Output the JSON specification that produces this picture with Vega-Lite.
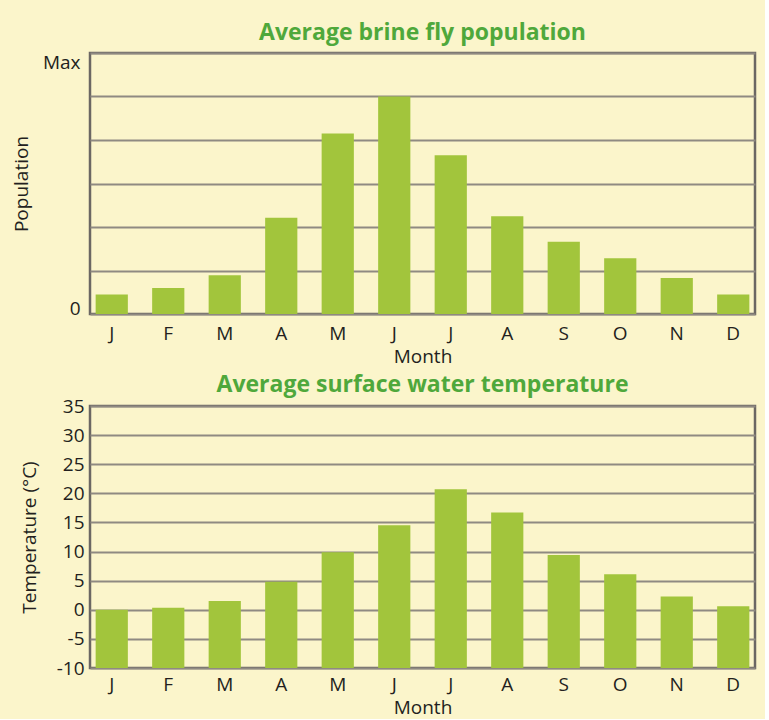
{
  "$schema": "https://vega.github.io/schema/vega-lite/v6.json",
  "description": "Average brine fly population and average surface water temperature by month.",
  "background": "#fbf5cb",
  "padding": {"top": 20, "left": 11, "right": 8, "bottom": 0},
  "spacing": 4,
  "config": {
    "font": "Open Sans",
    "view": {"stroke": "#6b6763", "strokeWidth": 2.5},
    "title": {"font": "Open Sans", "fontSize": 23, "fontWeight": "bold", "color": "#4fa83b", "anchor": "middle", "frame": "group", "offset": 8},
    "axis": {
      "domain": false,
      "ticks": false,
      "labelFont": "Open Sans",
      "labelFontSize": 19,
      "labelColor": "#231f20",
      "titleFont": "Open Sans",
      "titleFontSize": 19,
      "titleFontWeight": "normal",
      "titleColor": "#231f20",
      "gridColor": "#8f8a82",
      "gridWidth": 2,
      "gridOpacity": 1
    },
    "bar": {"color": "#a2c53c"}
  },
  "vconcat": [
    {
      "title": "Average brine fly population",
      "width": 665,
      "height": 261,
      "data": {
        "values": [
          {"month": "Jan", "population": 0.45},
          {"month": "Feb", "population": 0.6},
          {"month": "Mar", "population": 0.89},
          {"month": "Apr", "population": 2.21},
          {"month": "May", "population": 4.15},
          {"month": "Jun", "population": 5.0},
          {"month": "Jul", "population": 3.65},
          {"month": "Aug", "population": 2.25},
          {"month": "Sep", "population": 1.66},
          {"month": "Oct", "population": 1.28},
          {"month": "Nov", "population": 0.83},
          {"month": "Dec", "population": 0.45}
        ]
      },
      "mark": {"type": "bar"},
      "encoding": {
        "x": {
          "field": "month",
          "type": "ordinal",
          "sort": null,
          "title": "Month",
          "scale": {"paddingInner": 0.43, "paddingOuter": 0.1},
          "axis": {"labelAngle": 0, "labelPadding": 10, "titlePadding": 4, "labelExpr": "substring(datum.label, 0, 1)"}
        },
        "y": {
          "field": "population",
          "type": "quantitative",
          "title": "Population",
          "scale": {"domain": [0, 6], "nice": false},
          "axis": {
            "values": [0, 1, 2, 3, 4, 5, 6],
            "labelExpr": "datum.value == 6 ? 'Max' : (datum.value == 0 ? '0' : '')",
            "labelBaseline": {"condition": {"test": "datum.value == 6", "value": "top"}, "value": "alphabetic"},
            "labelPadding": 10,
            "titlePadding": 11
          }
        }
      }
    },
    {
      "title": {"text": "Average surface water temperature", "offset": 0},
      "width": 665,
      "height": 262,
      "data": {
        "values": [
          {"month": "Jan", "temperature": 0.0},
          {"month": "Feb", "temperature": 0.35},
          {"month": "Mar", "temperature": 1.5},
          {"month": "Apr", "temperature": 4.8},
          {"month": "May", "temperature": 9.9},
          {"month": "Jun", "temperature": 14.5},
          {"month": "Jul", "temperature": 20.7},
          {"month": "Aug", "temperature": 16.7},
          {"month": "Sep", "temperature": 9.4},
          {"month": "Oct", "temperature": 6.1},
          {"month": "Nov", "temperature": 2.3},
          {"month": "Dec", "temperature": 0.6}
        ]
      },
      "mark": {"type": "bar"},
      "encoding": {
        "x": {
          "field": "month",
          "type": "ordinal",
          "sort": null,
          "title": "Month",
          "scale": {"paddingInner": 0.43, "paddingOuter": 0.1},
          "axis": {"labelAngle": 0, "labelPadding": 7, "titlePadding": 4, "labelExpr": "substring(datum.label, 0, 1)"}
        },
        "y": {
          "field": "temperature",
          "type": "quantitative",
          "title": "Temperature (°C)",
          "scale": {"domain": [-10, 35], "nice": false},
          "axis": {
            "values": [-10, -5, 0, 5, 10, 15, 20, 25, 30, 35],
            "labelExpr": "datum.value + ''",
            "labelPadding": 6,
            "titlePadding": 17
          }
        },
        "y2": {"datum": -10}
      }
    }
  ]
}
